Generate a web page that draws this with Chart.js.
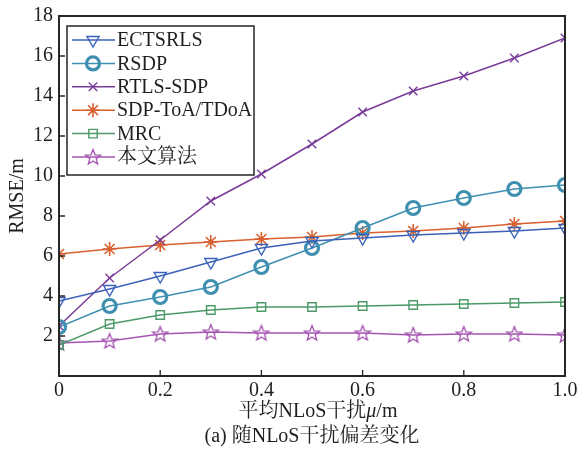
<!DOCTYPE html>
<html>
<head>
<meta charset="utf-8">
<script src="https://cdn.jsdelivr.net/npm/chart.js@4/dist/chart.umd.min.js"></script>
<style>
  html, body { margin: 0; padding: 0; background: #fff; }
  #wrap { width: 577px; height: 454px; }
</style>
</head>
<body>
<div id="wrap"><canvas id="chart" width="577" height="454"></canvas></div>
<script>
// Data
const xValues = [0, 0.1, 0.2, 0.3, 0.4, 0.5, 0.6, 0.7, 0.8, 0.9, 1.0]
const ectsrls = [3.75, 4.35, 5.0, 5.7, 6.4, 6.75, 6.9, 7.05, 7.15, 7.25, 7.4]
const rsdp = [2.45, 3.5, 3.95, 4.45, 5.45, 6.4, 7.4, 8.4, 8.9, 9.35, 9.55]
const rtlsSdp = [2.5, 4.9, 6.8, 8.75, 10.1, 11.6, 13.2, 14.25, 15.0, 15.9, 16.9]
const sdpToa = [6.1, 6.35, 6.55, 6.7, 6.85, 6.95, 7.15, 7.25, 7.4, 7.6, 7.75]
const mrc = [1.55, 2.6, 3.05, 3.3, 3.45, 3.45, 3.5, 3.55, 3.6, 3.65, 3.7]
const proposed = [1.65, 1.75, 2.1, 2.2, 2.15, 2.15, 2.15, 2.05, 2.1, 2.1, 2.05]

const seriesNames = ["ECTSRLS", "RSDP", "RTLS-SDP", "SDP-ToA/TDoA", "MRC", "本文算法"]
const yTicks = [2, 4, 6, 8, 10, 12, 14, 16, 18]
const xTicks = [0, 0.2, 0.4, 0.6, 0.8, 1.0]
const xTitle = ["平均NLoS干扰", "μ", "/m"]
const caption = "(a) 随NLoS干扰偏差变化"

const SERIF = "'Liberation Serif', 'Noto Serif CJK SC', 'Noto Sans CJK SC', serif"
const AXIS = "#262626"
const TEXT = "#1f1f1f"

// five-pointed star marker (Chart.js 'star' is an asterisk)
const makePentagram = (color) => {
  const c = document.createElement("canvas")
  c.width = 18
  c.height = 18
  const g = c.getContext("2d")
  g.strokeStyle = color
  g.lineWidth = 1.3
  g.beginPath()
  for (let i = 0; i < 10; i++) {
    const r = i % 2 === 0 ? 8 : 3.4
    const a = -Math.PI / 2 + (i * Math.PI) / 5
    const px = 9 + r * Math.cos(a)
    const py = 9.6 + r * Math.sin(a)
    if (i === 0) g.moveTo(px, py)
    else g.lineTo(px, py)
  }
  g.closePath()
  g.stroke()
  return c
}

const toPoints = (ys) => xValues.map((x, i) => ({ x, y: ys[i] }))

const styles = [
  { color: "#3b62b8", pointStyle: "triangle", rotation: 180, radius: 7, borderWidth: 1.4 },
  { color: "#3f8fb0", pointStyle: "circle", rotation: 0, radius: 6.5, borderWidth: 3.2 },
  { color: "#7a3b98", pointStyle: "crossRot", rotation: 0, radius: 6, borderWidth: 1.4 },
  { color: "#d9602f", pointStyle: "star", rotation: 0, radius: 7, borderWidth: 1.6 },
  { color: "#4c9a68", pointStyle: "rect", rotation: 0, radius: 6, borderWidth: 1.4 },
  { color: "#a455b0", pointStyle: makePentagram("#a455b0"), rotation: 0, radius: 8, borderWidth: 1.4 },
]

const allSeries = [ectsrls, rsdp, rtlsSdp, sdpToa, mrc, proposed]

const datasets = allSeries.map((ys, i) => ({
  label: seriesNames[i],
  data: toPoints(ys),
  borderColor: styles[i].color,
  borderWidth: 1.5,
  pointStyle: styles[i].pointStyle,
  pointRotation: styles[i].rotation,
  pointRadius: styles[i].radius,
  pointBorderWidth: styles[i].borderWidth,
  pointBorderColor: styles[i].color,
  pointBackgroundColor: "rgba(0,0,0,0)",
  tension: 0,
}))

// frame, inward ticks, legend box inside plot, axis title with italic mu
const decorations = {
  id: "decorations",
  afterDraw(chart) {
    const { ctx, chartArea: a, scales } = chart
    ctx.save()
    ctx.strokeStyle = AXIS
    ctx.lineWidth = 2
    ctx.strokeRect(a.left, a.top, a.right - a.left, a.bottom - a.top)
    ctx.lineWidth = 1.3
    ctx.beginPath()
    xTicks.forEach((v) => {
      const px = scales.x.getPixelForValue(v)
      ctx.moveTo(px, a.bottom)
      ctx.lineTo(px, a.bottom - 6)
    })
    yTicks.forEach((v) => {
      const py = scales.y.getPixelForValue(v)
      ctx.moveTo(a.left, py)
      ctx.lineTo(a.left + 6, py)
    })
    ctx.stroke()

    // legend
    const lx = a.left + 8
    const ly = a.top + 10
    ctx.fillStyle = "#fff"
    ctx.fillRect(lx, ly, 187, 149)
    ctx.lineWidth = 1.5
    ctx.strokeStyle = AXIS
    ctx.strokeRect(lx, ly, 187, 149)
    ctx.font = `20px ${SERIF}`
    ctx.textBaseline = "middle"
    chart.data.datasets.forEach((ds, i) => {
      const y = ly + 14 + i * 23.4
      ctx.strokeStyle = ds.borderColor
      ctx.lineWidth = 1.5
      ctx.beginPath()
      ctx.moveTo(lx + 5, y)
      ctx.lineTo(lx + 48, y)
      ctx.stroke()
      ctx.fillStyle = "rgba(0,0,0,0)"
      ctx.lineWidth = ds.pointBorderWidth
      Chart.helpers.drawPoint(ctx, {
        pointStyle: ds.pointStyle,
        rotation: ds.pointRotation,
        radius: ds.pointRadius,
        borderWidth: ds.pointBorderWidth,
      }, lx + 26, y)
      ctx.fillStyle = TEXT
      ctx.fillText(ds.label, lx + 50, y + 1)
    })

    // x axis title and caption
    ctx.fillStyle = TEXT
    ctx.textBaseline = "middle"
    ctx.textAlign = "left"
    const fonts = [`20px ${SERIF}`, `italic 20px ${SERIF}`, `20px ${SERIF}`]
    const widths = xTitle.map((t, i) => {
      ctx.font = fonts[i]
      return ctx.measureText(t).width
    })
    let tx = (a.left + a.right) / 2 + 6 - widths.reduce((s, w) => s + w, 0) / 2
    xTitle.forEach((t, i) => {
      ctx.font = fonts[i]
      ctx.fillText(t, tx, 412)
      tx += widths[i]
    })
    ctx.font = `20px ${SERIF}`
    ctx.textAlign = "center"
    ctx.fillText(caption, (a.left + a.right) / 2, 437)
    ctx.restore()
  },
}

new Chart(document.getElementById("chart"), {
  type: "line",
  data: { datasets },
  plugins: [decorations],
  options: {
    responsive: false,
    animation: false,
    layout: { padding: { top: 16, right: 12, bottom: 48, left: 0 } },
    plugins: { legend: { display: false }, tooltip: { enabled: false } },
    scales: {
      x: {
        type: "linear",
        min: 0,
        max: 1,
        afterBuildTicks: (s) => { s.ticks = xTicks.map((v) => ({ value: v })) },
        afterFit: (s) => {
          s.height = 30
          s.paddingLeft = 0
          s.paddingRight = 0
        },
        ticks: {
          font: { family: SERIF, size: 20 },
          color: TEXT,
          padding: 3,
          maxRotation: 0,
          callback: (v) => (v === 0 ? "0" : v.toFixed(1)),
        },
        grid: { display: false, drawTicks: false },
        border: { display: false },
      },
      y: {
        min: 0,
        max: 18,
        afterBuildTicks: (s) => { s.ticks = yTicks.map((v) => ({ value: v })) },
        afterFit: (s) => {
          s.width = 59
          s.paddingTop = 0
          s.paddingBottom = 0
        },
        ticks: {
          font: { family: SERIF, size: 20 },
          color: TEXT,
          padding: 6,
        },
        grid: { display: false, drawTicks: false },
        border: { display: false },
        title: {
          display: true,
          text: "RMSE/m",
          font: { family: SERIF, size: 20 },
          color: TEXT,
          padding: { top: 6, bottom: 0 },
        },
      },
    },
  },
})
</script>
</body>
</html>
